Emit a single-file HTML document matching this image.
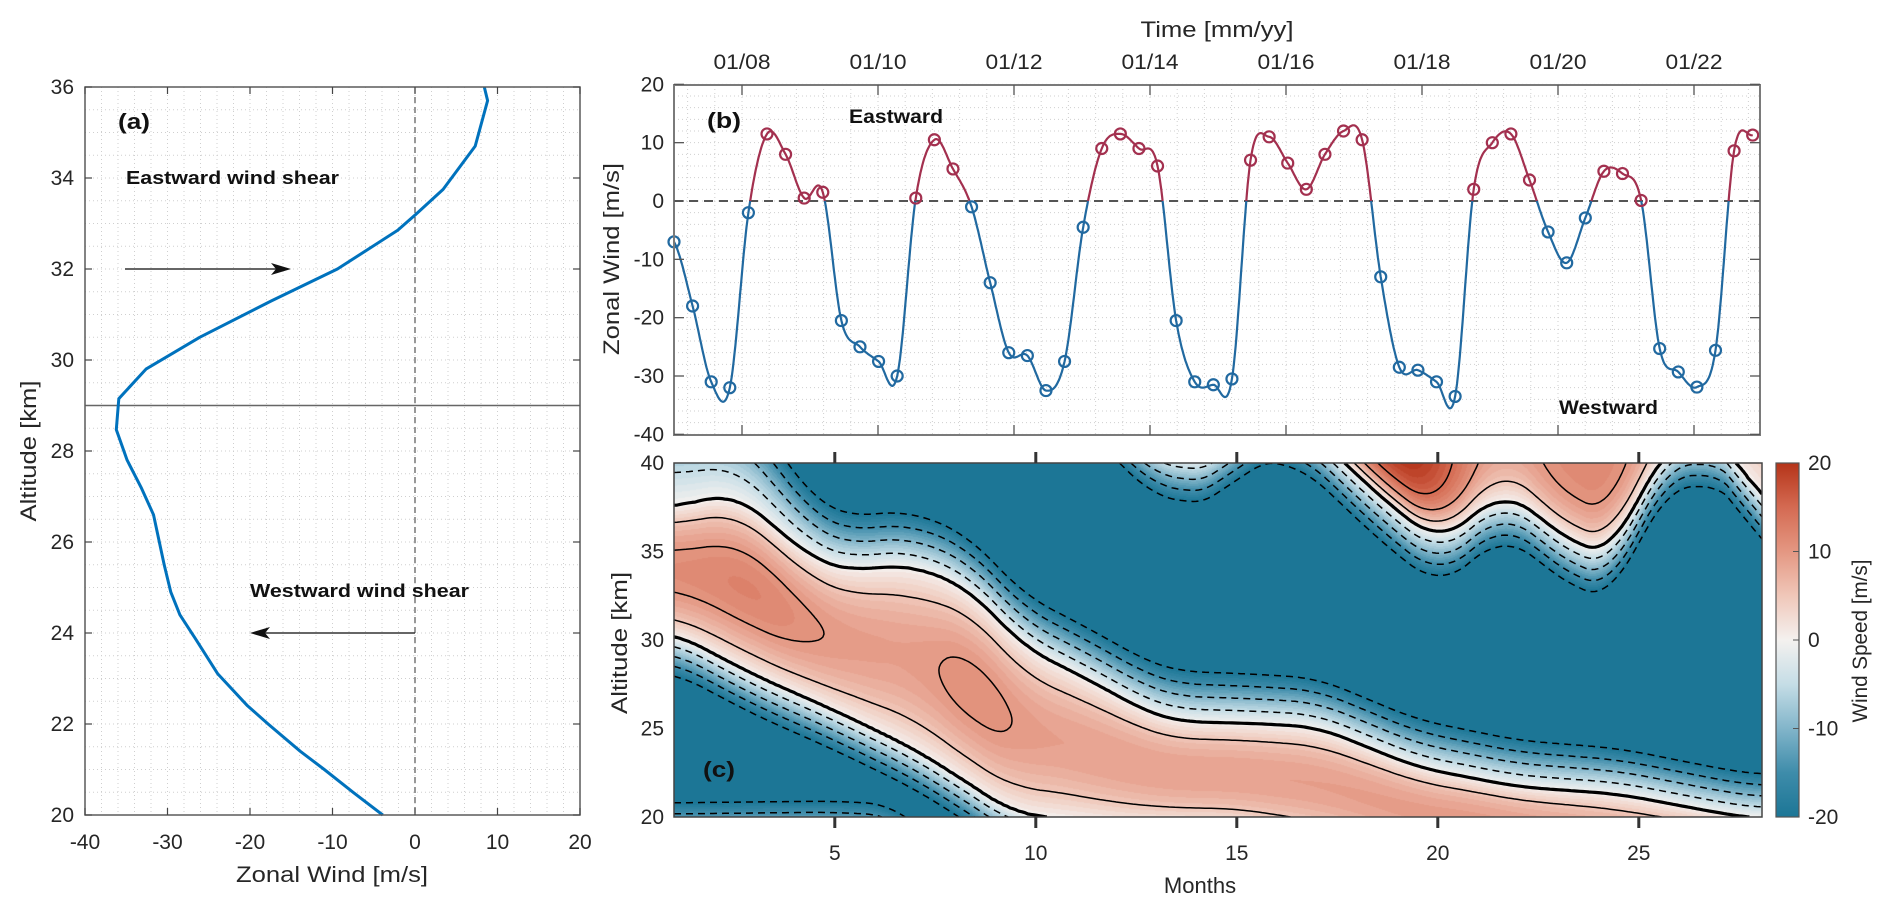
<!DOCTYPE html>
<html><head><meta charset="utf-8">
<style>
html,body{margin:0;padding:0;background:#fff;}
#wrap{position:relative;width:1892px;height:914px;overflow:hidden;font-family:"Liberation Sans",sans-serif;}
#heat{position:absolute;left:674px;top:463px;}
#svg{position:absolute;left:0;top:0;}
</style></head>
<body>
<div id="wrap">
<canvas id="heat" width="1088" height="354"></canvas>
<svg id="svg" width="1892" height="914" xmlns="http://www.w3.org/2000/svg"></svg>
</div>
<script>
// ---------- Panel (a): profile data ----------
const profAlt = [36.0,35.7,34.7,33.75,33.2,32.85,32.0,31.3,30.5,29.8,29.15,28.47,27.8,27.2,26.6,25.5,24.9,24.4,23.9,23.1,22.4,22.0,21.4,21.0,20.5,20.0];
const profWind = [8.4,8.8,7.3,3.4,0.1,-2.1,-9.4,-17.4,-26.1,-32.6,-35.9,-36.2,-34.9,-33.2,-31.7,-30.4,-29.6,-28.5,-26.7,-23.9,-20.3,-17.8,-13.9,-11.0,-7.5,-3.9];
const aXTicks = [-40,-30,-20,-10,0,10,20];
const aYTicks = [20,22,24,26,28,30,32,34,36];
// ---------- Panel (b): time series ----------
const bStartYear = 2007;
const bStepYears = 0.2735;
const bValues = [-7,-18,-31,-32,-2,11.5,8,0.5,1.5,-20.5,-25,-27.5,-30,0.5,10.5,5.5,-1,-14,-26,-26.5,-32.5,-27.5,-4.5,9,11.5,9,6,-20.5,-31,-31.5,-30.5,7,11,6.5,2,8,12,10.5,-13,-28.5,-29,-31,-33.5,2,10,11.5,3.6,-5.3,-10.6,-2.9,5.1,4.7,0.1,-25.3,-29.3,-31.9,-25.6,8.6,11.3];
const bYTicks = [20,10,0,-10,-20,-30,-40];
const bTimeTicks = [2008,2010,2012,2014,2016,2018,2020,2022];
const bTimeLabels = ["01/08","01/10","01/12","01/14","01/16","01/18","01/20","01/22"];
// ---------- Panel (c): contour field descriptors ----------
const bandTopM = [1,2.5,4.5,5.4,6.8,8.3,9.7,11.2,12.8,13.5,15.3,17,19.5,22,24.5,27.3,28];
const bandTopA = [37.5,38.3,34.5,33.9,34.3,33.0,29.6,27.9,25.9,25.4,25.3,25.1,22.8,21.7,21.3,20.1,19.9];
const bandBotM = [1,3,5,7,9,9.4,12,15,20,25,28];
const bandBotA = [30.4,28.0,26.0,23.8,20.9,20.2,19.6,19.5,17.5,16.5,16.5];
const bandPeakM = [1,3,5,7,8.5,10,13,17,21,25,28];
const bandPeakV = [11,12.5,9.5,9,11.5,9,9,9,9.5,8,8];
const kTopM = [1,3,5,28];
const kTopV = [2.6,3.5,6.5,8];
const upM = [1,2,3,4,5,11.5,12.8,14,14.6,15.2,16.5,17.7,18.5,19.3,20,20.8,21.6,22.5,23.5,24.4,25,25.6,26.5,27.3,27.8,28];
const upZ = [41.5,41.6,42,42.6,44,44,40.7,40.2,40.3,42.5,42.5,40,38.2,36.8,35.5,36.8,38.5,37.0,35.2,34.9,38.0,41,41.3,41,39.5,37];
const upP = [10,10,10,10,10,10,10,10,10,10,10,20,22,22,19,12,8,11,12,12,10,8,6,5,5,5];
const lowM = [1,5,6.5,8];
const lowZ = [18.3,18.4,18.2,15];
const cXTicks = [5,10,15,20,25];
const cYTicks = [20,25,30,35,40];
const cbarTicks = [20,10,0,-10,-20];
const contourLevels = [-20,-15,-10,-5,0,5,10,15];

const NS = "http://www.w3.org/2000/svg";
const svg = document.getElementById('svg');
function el(tag, attrs, parent){ const e=document.createElementNS(NS,tag); for(const k in attrs) e.setAttribute(k,attrs[k]); (parent||svg).appendChild(e); return e; }
function txt(s, attrs, parent){ const e=el('text',attrs,parent); e.textContent=s; return e; }
function interp(xs, ys, x){ if(x<=xs[0]) return ys[0]; for(let i=1;i<xs.length;i++){ if(x<=xs[i]){ const t=(x-xs[i-1])/(xs[i]-xs[i-1]); return ys[i-1]+t*(ys[i]-ys[i-1]); } } return ys[ys.length-1]; }
function sinterp(xs, ys, x){ let s=0,n=0; for(let d=-0.7; d<=0.701; d+=0.1){ s+=interp(xs,ys,Math.min(28,Math.max(1,x+d))); n++; } return s/n; }
const TC = "#262626";

// ================= Panel (a) =================
const A = {x0:85,x1:580,y0:87,y1:815};
const xA = w => A.x0 + (w+40)*(A.x1-A.x0)/60;
const yA = a => A.y1 - (a-20)*(A.y1-A.y0)/16;
const gA = el('g',{});


el('rect',{x:A.x0,y:A.y0,width:A.x1-A.x0,height:A.y1-A.y0,fill:'#fff'},gA);
for(let w=-40; w<=20; w+=2){ el('line',{x1:xA(w),x2:xA(w),y1:A.y0,y2:A.y1,stroke:'#cfcfcf','stroke-width':1,'stroke-dasharray':'1,3'},gA); }
for(let a=20; a<=36; a+=0.5){ el('line',{x1:A.x0,x2:A.x1,y1:yA(a),y2:yA(a),stroke:'#cfcfcf','stroke-width':1,'stroke-dasharray':'1,3'},gA); }
el('line',{x1:xA(0),x2:xA(0),y1:A.y0,y2:A.y1,stroke:'#555','stroke-width':1.2,'stroke-dasharray':'6,4'},gA);
el('line',{x1:A.x0,x2:A.x1,y1:yA(29),y2:yA(29),stroke:'#666','stroke-width':1.4},gA);
let dA = profAlt.map((a,i)=>(i?'L':'M')+xA(profWind[i]).toFixed(1)+','+yA(a).toFixed(1)).join('');
const profLine = el('path',{d:dA,fill:'none',stroke:'#0072bd','stroke-width':3,'stroke-linejoin':'round'},gA);


el('rect',{x:A.x0,y:A.y0,width:A.x1-A.x0,height:A.y1-A.y0,fill:'none',stroke:'#5a5a5a','stroke-width':1.5},gA);
aXTicks.forEach(w=>{
  el('line',{x1:xA(w),x2:xA(w),y1:A.y1,y2:A.y1-7,stroke:'#444','stroke-width':1.2},gA);
  el('line',{x1:xA(w),x2:xA(w),y1:A.y0,y2:A.y0+7,stroke:'#444','stroke-width':1.2},gA);
  const t=txt(String(w),{x:xA(w),y:849,'text-anchor':'middle','font-size':21,fill:TC},gA);
  
  
});
aYTicks.forEach(a=>{
  el('line',{x1:A.x0,x2:A.x0+7,y1:yA(a),y2:yA(a),stroke:'#444','stroke-width':1.2},gA);
  el('line',{x1:A.x1,x2:A.x1-7,y1:yA(a),y2:yA(a),stroke:'#444','stroke-width':1.2},gA);
  const t=txt(String(a),{x:74,y:yA(a)+7,'text-anchor':'end','font-size':21,fill:TC},gA);
  
  
});
let t1=txt('Zonal Wind [m/s]',{x:332,y:882,'text-anchor':'middle','font-size':22,fill:TC,textLength:192,lengthAdjust:'spacingAndGlyphs'},gA);
 
t1=txt('Altitude [km]',{x:0,y:0,'text-anchor':'middle','font-size':22,fill:TC,transform:'translate(36,451) rotate(-90)',textLength:141,lengthAdjust:'spacingAndGlyphs'},gA);
 
t1=txt('(a)',{x:118,y:129,'font-size':22,'font-weight':'bold',fill:'#111',textLength:32,lengthAdjust:'spacingAndGlyphs'},gA);
 
t1=txt('Eastward wind shear',{x:126,y:184,'font-size':18,'font-weight':'bold',fill:'#111',textLength:213,lengthAdjust:'spacingAndGlyphs'},gA);
 
t1=txt('Westward wind shear',{x:250,y:597,'font-size':18,'font-weight':'bold',fill:'#111',textLength:219,lengthAdjust:'spacingAndGlyphs'},gA);
 
const arrE = el('g',{},gA);
 
el('line',{x1:125,x2:285,y1:yA(32),y2:yA(32),stroke:'#333','stroke-width':1.4},arrE);
el('path',{d:`M291,${yA(32)} L271,${yA(32)-6} L276,${yA(32)} L271,${yA(32)+6}Z`,fill:'#111'},arrE);
const arrW = el('g',{},gA);
 
el('line',{x1:xA(0),x2:256,y1:yA(24),y2:yA(24),stroke:'#333','stroke-width':1.4},arrW);
el('path',{d:`M250,${yA(24)} L270,${yA(24)-6} L265,${yA(24)} L270,${yA(24)+6}Z`,fill:'#111'},arrW);

// ================= Panel (b) =================
const B = {x0:674,x1:1760,y0:85,y1:435};
const xB = t => B.x0 + (t-2007)*68;
const yB = v => 201 - v*(B.y1-B.y0)/60;
const gB = el('g',{});


for(let t=2007.2; t<2023; t+=0.4){ el('line',{x1:xB(t),x2:xB(t),y1:B.y0,y2:B.y1,stroke:'#cfcfcf','stroke-width':1,'stroke-dasharray':'1,3'},gB); }
for(let v=-40; v<=20; v+=2){ el('line',{x1:B.x0,x2:B.x1,y1:yB(v),y2:yB(v),stroke:'#cfcfcf','stroke-width':1,'stroke-dasharray':'1,3'},gB); }
const zl=el('line',{x1:B.x0,x2:B.x1,y1:yB(0),y2:yB(0),stroke:'#555','stroke-width':2,'stroke-dasharray':'9,6'},gB);
 
const nP = bValues.length;
const samples = [];
for(let k=0;k<nP-1;k++){
  const p0=bValues[Math.max(0,k-1)], p1=bValues[k], p2=bValues[k+1], p3=bValues[Math.min(nP-1,k+2)];
  for(let s=0;s<20;s++){
    const u=s/20;
    const v=0.5*((2*p1)+(-p0+p2)*u+(2*p0-5*p1+4*p2-p3)*u*u+(-p0+3*p1-3*p2+p3)*u*u*u);
    samples.push([bStartYear+(k+u)*bStepYears, v]);
  }
}
samples.push([bStartYear+(nP-1)*bStepYears, bValues[nP-1]]);
const runs=[]; let cur=[samples[0]]; let sg=samples[0][1]>=0;
for(let i=1;i<samples.length;i++){
  const a=samples[i-1], b=samples[i]; const s2=b[1]>=0;
  if(s2!==sg){ const f=a[1]/(a[1]-b[1]); const c=[a[0]+f*(b[0]-a[0]),0]; cur.push(c); runs.push([sg,cur]); cur=[c]; sg=s2; }
  cur.push(b);
}
runs.push([sg,cur]);
const RED='#a3304f', BLUE='#2169a0';
runs.forEach(r=>{
  const p=el('path',{d:r[1].map((q,i)=>(i?'L':'M')+xB(q[0]).toFixed(1)+','+yB(q[1]).toFixed(1)).join(''),fill:'none',stroke:r[0]?RED:BLUE,'stroke-width':2.2,'stroke-linejoin':'round'},gB);
  
  
});
bValues.forEach((v,k)=>{
  const c=el('circle',{cx:xB(bStartYear+k*bStepYears),cy:yB(v),r:5.5,fill:'none',stroke:v>=0?RED:BLUE,'stroke-width':2.2},gB);
  
  
});
el('rect',{x:B.x0,y:B.y0,width:B.x1-B.x0,height:B.y1-B.y0,fill:'none',stroke:'#7a7a7a','stroke-width':2},gB);
bTimeTicks.forEach((t,i)=>{
  el('line',{x1:xB(t),x2:xB(t),y1:B.y0,y2:B.y0+10,stroke:'#555','stroke-width':1.3},gB);
  el('line',{x1:xB(t),x2:xB(t),y1:B.y1,y2:B.y1-10,stroke:'#555','stroke-width':1.3},gB);
  const tt=txt(bTimeLabels[i],{x:xB(t),y:69,'text-anchor':'middle','font-size':21,fill:TC,textLength:57,lengthAdjust:'spacingAndGlyphs'},gB);
   
});
bYTicks.forEach(v=>{
  el('line',{x1:B.x0,x2:B.x0+10,y1:yB(v),y2:yB(v),stroke:'#555','stroke-width':1.3},gB);
  el('line',{x1:B.x1,x2:B.x1-10,y1:yB(v),y2:yB(v),stroke:'#555','stroke-width':1.3},gB);
  const tt=txt(String(v),{x:664,y:yB(v)+7,'text-anchor':'end','font-size':21,fill:TC},gB);
   
});
t1=txt('Time [mm/yy]',{x:1217,y:37,'text-anchor':'middle','font-size':22,fill:TC,textLength:153,lengthAdjust:'spacingAndGlyphs'},gB);
 
t1=txt('Zonal Wind [m/s]',{x:0,y:0,'text-anchor':'middle','font-size':22,fill:TC,transform:'translate(619,259) rotate(-90)',textLength:192,lengthAdjust:'spacingAndGlyphs'},gB);
 
t1=txt('(b)',{x:707,y:128,'font-size':22,'font-weight':'bold',fill:'#111',textLength:34,lengthAdjust:'spacingAndGlyphs'},gB);
 
t1=txt('Eastward',{x:849,y:123,'font-size':19,'font-weight':'bold',fill:'#111',textLength:94,lengthAdjust:'spacingAndGlyphs'},gB);
 
t1=txt('Westward',{x:1559,y:414,'font-size':19,'font-weight':'bold',fill:'#111',textLength:99,lengthAdjust:'spacingAndGlyphs'},gB);
 

// ================= Panel (c) =================
const C = {x0:674,x1:1762,y0:463,y1:817};
const W = C.x1-C.x0, H = C.y1-C.y0;
const xC = m => C.x0 + (m-1)*40.2;
const mOfPx = px => 1 + px/40.2;
const yC = a => C.y1 - (a-20)*(H/20);
const aOfPx = py => 40 - py*(20/H);
function colParams(m){
  return {top:sinterp(bandTopM,bandTopA,m), bot:sinterp(bandBotM,bandBotA,m), peak:sinterp(bandPeakM,bandPeakV,m),
          kt:sinterp(kTopM,kTopV,m), uz:sinterp(upM,upZ,m), up:sinterp(upM,upP,m), lz:sinterp(lowM,lowZ,m)};
}
function fieldVal(p,a){
  const c=(p.top+p.bot)/2, h=(p.top-p.bot)/2;
  let v;
  if(a>p.top) v=-p.kt*(a-p.top);
  else if(a<p.bot) v=-9*(p.bot-a);
  else { const r=(a-c)/h; v=p.peak*(1-r*r); }
  const vu = a>=p.uz ? p.up*Math.tanh((a-p.uz)/2) : -8*(p.uz-a);
  const vl = -8*(a-p.lz);
  return Math.max(v,vu,vl);
}
const cStops = [[-20,[28,118,150]],[-15,[62,140,170]],[-10,[130,181,202]],[-5,[197,221,230]],[0,[244,241,239]],[5,[240,199,185]],[10,[228,151,130]],[15,[212,106,82]],[20,[181,52,25]]];
function cmap(v){
  v=Math.max(-20,Math.min(20,v));
  for(let i=1;i<cStops.length;i++){ if(v<=cStops[i][0]){ const a=cStops[i-1],b=cStops[i]; const t=(v-a[0])/(b[0]-a[0]); return a[1].map((q,j)=>Math.round(q+t*(b[1][j]-q))); } }
  return cStops[cStops.length-1][1];
}
const cv=document.getElementById('heat'); const ctx=cv.getContext('2d');
const img=ctx.createImageData(W,H);
const cols=[]; for(let x=0;x<W;x++) cols.push(colParams(mOfPx(x+0.5)));
for(let y=0;y<H;y++){ const a=aOfPx(y+0.5); for(let x=0;x<W;x++){ let v=fieldVal(cols[x],a); v=Math.floor(v)+0.5; const c=cmap(v); const o=(y*W+x)*4; img.data[o]=c[0]; img.data[o+1]=c[1]; img.data[o+2]=c[2]; img.data[o+3]=255; } }
ctx.putImageData(img,0,0);
const st=3; const nx=Math.ceil(W/st)+1, ny=Math.ceil(H/st)+1;
const gx=[],gy=[]; for(let i=0;i<nx;i++) gx.push(Math.min(i*st,W)); for(let j=0;j<ny;j++) gy.push(Math.min(j*st,H));
const G=[]; const gcols=gx.map(x=>colParams(mOfPx(x)));
for(let j=0;j<ny;j++){ const row=[]; const a=aOfPx(gy[j]); for(let i=0;i<nx;i++) row.push(fieldVal(gcols[i],a)); G.push(row); }
function contourPaths(L){
  const adj=new Map(), pos=new Map();
  function edge(k,xa,ya,va,xb,yb,vb){ if((va>=L)===(vb>=L)) return null; const t=(L-va)/(vb-va); if(!pos.has(k)){pos.set(k,[xa+t*(xb-xa),ya+t*(yb-ya)]); adj.set(k,[]);} return k; }
  for(let j=0;j<ny-1;j++) for(let i=0;i<nx-1;i++){
    const v0=G[j][i],v1=G[j][i+1],v2=G[j+1][i+1],v3=G[j+1][i];
    const x0=gx[i],x1=gx[i+1],y0=gy[j],y1=gy[j+1];
    const es=[edge('h'+i+'_'+j,x0,y0,v0,x1,y0,v1),edge('v'+(i+1)+'_'+j,x1,y0,v1,x1,y1,v2),edge('h'+i+'_'+(j+1),x1,y1,v2,x0,y1,v3),edge('v'+i+'_'+j,x0,y1,v3,x0,y0,v0)].filter(e=>e);
    if(es.length===2){ adj.get(es[0]).push(es[1]); adj.get(es[1]).push(es[0]); }
    else if(es.length===4){ adj.get(es[0]).push(es[1]); adj.get(es[1]).push(es[0]); adj.get(es[2]).push(es[3]); adj.get(es[3]).push(es[2]); }
  }
  const seen=new Set(); const lines=[];
  function walk(s){ const pts=[s]; seen.add(s); let prev=null, curK=s; while(true){ const nb=adj.get(curK).filter(n=>!seen.has(n)); if(!nb.length){ const back=adj.get(curK).find(n=>n===s && n!==prev); if(back && pts.length>2) pts.push(s); break;} prev=curK; curK=nb[0]; seen.add(curK); pts.push(curK);} return pts; }
  for(const [k,n] of adj) if(!seen.has(k) && n.length===1) lines.push(walk(k));
  for(const [k] of adj) if(!seen.has(k)) lines.push(walk(k));
  return lines.map(l=>l.map((k,i)=>{const p=pos.get(k); return (i?'L':'M')+(C.x0+p[0]).toFixed(1)+','+(C.y0+p[1]).toFixed(1);}).join(''));
}
const gC = el('g',{});


el('clipPath',{id:'clipc'},gC); el('rect',{x:C.x0,y:C.y0,width:W,height:H},document.getElementById('clipc'));
const gCont = el('g',{'clip-path':'url(#clipc)'},gC);
contourLevels.forEach(L=>{
  contourPaths(L).forEach(d=>{
    const p=el('path',{d:d,fill:'none',stroke:'#000','stroke-width':L===0?3.2:1.5,'stroke-dasharray':L<0?'7,5':'none','stroke-linejoin':'round'},gCont);
    
    
  });
});
el('rect',{x:C.x0,y:C.y0,width:W,height:H,fill:'none',stroke:'#444','stroke-width':1.5},gC);
cXTicks.forEach(m=>{
  el('line',{x1:xC(m),x2:xC(m),y1:C.y0,y2:C.y0-11,stroke:'#333','stroke-width':3},gC);
  el('line',{x1:xC(m),x2:xC(m),y1:C.y1,y2:C.y1+11,stroke:'#333','stroke-width':3},gC);
  const tt=txt(String(m),{x:xC(m),y:860,'text-anchor':'middle','font-size':21,fill:TC},gC);
   
});
cYTicks.forEach(a=>{
  const tt=txt(String(a),{x:664,y:yC(a)+7,'text-anchor':'end','font-size':21,fill:TC},gC);
   
});
t1=txt('Months',{x:1200,y:893,'text-anchor':'middle','font-size':22,fill:TC},gC);
 
t1=txt('Altitude [km]',{x:0,y:0,'text-anchor':'middle','font-size':22,fill:TC,transform:'translate(627,643) rotate(-90)',textLength:142,lengthAdjust:'spacingAndGlyphs'},gC);
 
t1=txt('(c)',{x:703,y:777,'font-size':22,'font-weight':'bold',fill:'#111',textLength:32,lengthAdjust:'spacingAndGlyphs'},gC);
 
const defs=el('defs',{});
const lg=el('linearGradient',{id:'cbg',x1:0,y1:1,x2:0,y2:0},defs);
cStops.forEach(s=>el('stop',{offset:((s[0]+20)/40),'stop-color':'rgb('+s[1].join(',')+')'},lg));
const cb=el('rect',{x:1776,y:C.y0,width:23,height:H,fill:'url(#cbg)',stroke:'#555','stroke-width':1.2});
 
cbarTicks.forEach(v=>{
  const y=C.y1-(v+20)/40*H;
  el('line',{x1:1793,x2:1799,y1:y,y2:y,stroke:'#555','stroke-width':1});
  const tt=txt(String(v),{x:1808,y:y+7,'font-size':21,fill:TC});
   
});
t1=txt('Wind Speed [m/s]',{x:0,y:0,'text-anchor':'middle','font-size':21,fill:TC,transform:'translate(1867,641) rotate(-90)',textLength:163,lengthAdjust:'spacingAndGlyphs'});
 
</script>
</body></html>
